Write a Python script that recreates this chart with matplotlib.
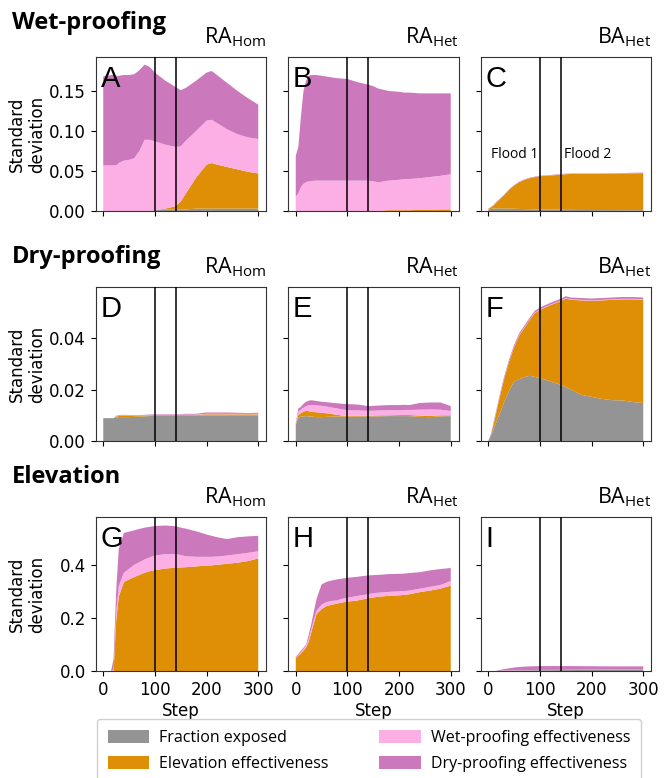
import numpy as np
import matplotlib
matplotlib.use("Agg")
import matplotlib.pyplot as plt
from matplotlib.patches import Patch
from matplotlib.ticker import FormatStrFormatter

TXT = "Open Sans"
plt.rcParams['mathtext.fontset'] = 'custom'
plt.rcParams['mathtext.rm'] = TXT
plt.rcParams['mathtext.it'] = TXT + ':italic'
plt.rcParams['mathtext.bf'] = TXT + ':bold'

# --- data: standard deviation per factor ---
steps = [0, 5, 10, 15, 20, 25, 30, 40, 50, 60, 70, 80, 90, 100, 120, 140,
         150, 160, 180, 200, 210, 220, 240, 260, 280, 300]

# Wet-proofing, RA_Hom (A)
A_exposed = [0, 0, 0, 0, 0, 0, 0, 0, 0, 0, 0, 0, 0, 0.001, 0.002, 0.002,
             0.002, 0.002, 0.003, 0.003, 0.003, 0.003, 0.003, 0.003, 0.003, 0.003]
A_elev = [0, 0, 0, 0, 0, 0, 0, 0, 0, 0, 0, 0, 0, 0, 0.001, 0.004,
          0.010, 0.020, 0.039, 0.055, 0.057, 0.055, 0.052, 0.049, 0.046, 0.044]
A_wet = [0.057, 0.057, 0.057, 0.057, 0.057, 0.057, 0.060, 0.063, 0.064, 0.066, 0.075, 0.089, 0.089,
         0.086, 0.080, 0.074, 0.069, 0.066, 0.058, 0.055, 0.054, 0.052, 0.047, 0.044, 0.043, 0.043]
A_dry = [0.111, 0.112, 0.112, 0.113, 0.113, 0.112, 0.109, 0.107, 0.106, 0.105, 0.101, 0.094, 0.091,
         0.086, 0.080, 0.075, 0.070, 0.066, 0.063, 0.060, 0.061, 0.060, 0.058, 0.054, 0.049, 0.043]

# Wet-proofing, RA_Het (B)
B_exposed = [0] * 26
B_elev = [0, 0, 0, 0, 0, 0, 0, 0, 0, 0, 0, 0, 0, 0, 0, 0,
          0, 0, 0.001, 0.001, 0.001, 0.001, 0.0015, 0.0015, 0.002, 0.002]
B_wet = [0.018, 0.022, 0.030, 0.034, 0.036, 0.037, 0.0375, 0.038, 0.038, 0.038, 0.038, 0.038, 0.038,
         0.038, 0.038, 0.038, 0.037, 0.036, 0.037, 0.038, 0.039, 0.039, 0.0395, 0.041, 0.042, 0.044]
B_dry = [0.051, 0.058, 0.088, 0.116, 0.127, 0.132, 0.1325, 0.132, 0.131, 0.130, 0.129, 0.128, 0.1275,
         0.127, 0.123, 0.120, 0.119, 0.117, 0.112, 0.110, 0.108, 0.108, 0.106, 0.1045, 0.103, 0.101]

# Wet-proofing, BA_Het (C)
C_exposed = [0.002, 0.0025, 0.003, 0.003, 0.0033, 0.0033, 0.003, 0.003, 0.0028, 0.0026, 0.0024, 0.0022, 0.002,
             0.002, 0.0018, 0.0016, 0.0015, 0.0014, 0.0013, 0.0012, 0.0012, 0.0011, 0.0011, 0.001, 0.001, 0.001]
C_elev = [0.0003, 0.0018, 0.0038, 0.0073, 0.010, 0.013, 0.0163, 0.0233, 0.029, 0.0334, 0.0365, 0.0388, 0.0403,
          0.0415, 0.0425, 0.0439, 0.0445, 0.0449, 0.045, 0.0451, 0.0451, 0.0452, 0.0454, 0.0458, 0.0461, 0.0463]
C_wet = [0.0002] * 26
C_dry = [0.0005] * 26

# Dry-proofing, RA_Hom (D)
D_exposed = [0.0089, 0.0089, 0.0089, 0.0089, 0.0089, 0.0091, 0.0093, 0.0093, 0.0093, 0.0094, 0.0095, 0.0096, 0.0097,
             0.0098, 0.0098, 0.0098, 0.0098, 0.0099, 0.0099, 0.0100, 0.0100, 0.0100, 0.0100, 0.0100, 0.0100, 0.0100]
D_elev = [0, 0, 0, 0, 0, 0.0004, 0.0005, 0.0006, 0.0005, 0.0004, 0.0003, 0.0003, 0.0003,
          0.0003, 0.0003, 0.0003, 0.0003, 0.0003, 0.0003, 0.0004, 0.0004, 0.0004, 0.0004, 0.0004, 0.0004, 0.0004]
D_wet = [0, 0, 0, 0, 0, 0.0001, 0.0001, 0.0001, 0.0001, 0.0001, 0.0001, 0.0001, 0.0001,
         0.0001, 0.0001, 0.0001, 0.0001, 0.0001, 0.0001, 0.0002, 0.0002, 0.0002, 0.0002, 0.0002, 0.0002, 0.0002]
D_dry = [0, 0, 0, 0, 0, 0.0002, 0.0002, 0.0002, 0.0002, 0.0002, 0.0002, 0.0002, 0.0002,
         0.0002, 0.0002, 0.0002, 0.0002, 0.0003, 0.0003, 0.0005, 0.0005, 0.0005, 0.0005, 0.0004, 0.0003, 0.0004]

# Dry-proofing, RA_Het (E)
E_exposed = [0.0063, 0.0090, 0.0095, 0.0096, 0.0097, 0.0096, 0.0095, 0.0093, 0.0093, 0.0094, 0.0095, 0.0095, 0.0095,
             0.0095, 0.0095, 0.0096, 0.0096, 0.0096, 0.0097, 0.0097, 0.0097, 0.0097, 0.0094, 0.0093, 0.0096, 0.0097]
E_elev = [0, 0.0011, 0.0013, 0.0018, 0.0021, 0.0020, 0.0019, 0.0019, 0.0017, 0.0014, 0.0010, 0.0007, 0.0004,
          0.0003, 0.0003, 0.0002, 0.0003, 0.0004, 0.0003, 0.0004, 0.0004, 0.0004, 0.0005, 0.0005, 0.0004, 0.0003]
E_wet = [0, 0.0013, 0.0015, 0.0016, 0.0018, 0.0023, 0.0026, 0.0027, 0.0027, 0.0026, 0.0025, 0.0025, 0.0024,
         0.0022, 0.0021, 0.0020, 0.0019, 0.0019, 0.0020, 0.0019, 0.0020, 0.0020, 0.0023, 0.0025, 0.0022, 0.0017]
E_dry = [0.0006, 0.0013, 0.0010, 0.0015, 0.0017, 0.0018, 0.0019, 0.0017, 0.0016, 0.0017, 0.0019, 0.0020, 0.0022,
         0.0024, 0.0023, 0.0018, 0.0019, 0.0019, 0.0020, 0.0020, 0.0020, 0.0019, 0.0026, 0.0027, 0.0028, 0.0019]

# Dry-proofing, BA_Het (F)
F_exposed = [0, 0.002, 0.0045, 0.007, 0.0097, 0.012, 0.0148, 0.0194, 0.0232, 0.0241, 0.0249, 0.0254, 0.0250,
             0.0245, 0.0232, 0.0219, 0.0210, 0.0200, 0.0180, 0.0172, 0.0168, 0.0164, 0.0159, 0.0158, 0.0152, 0.0148]
F_elev = [0, 0.0002, 0.0016, 0.0036, 0.0054, 0.0074, 0.0088, 0.0113, 0.0133, 0.0170, 0.0192, 0.0217, 0.0248,
          0.0266, 0.0297, 0.0326, 0.0345, 0.0350, 0.0368, 0.0374, 0.0379, 0.0384, 0.0391, 0.0394, 0.0400, 0.0402]
F_wet = [0, 0.0001, 0.0002, 0.0002, 0.0002, 0.0002, 0.0002, 0.0002, 0.0002, 0.0002, 0.0002, 0.0002, 0.0002,
         0.0002, 0.0002, 0.0002, 0.0002, 0.0002, 0.0002, 0.0002, 0.0002, 0.0002, 0.0002, 0.0002, 0.0002, 0.0002]
F_dry = [0, 0.0003, 0.0007, 0.0007, 0.0007, 0.0007, 0.0007, 0.0007, 0.0007, 0.0007, 0.0007, 0.0007, 0.0007,
         0.0007, 0.0007, 0.0007, 0.0007, 0.0007, 0.0007, 0.0007, 0.0007, 0.0007, 0.0007, 0.0007, 0.0007, 0.0007]

# Elevation, RA_Hom (G)
G_exposed = [0] * 26
G_elev = [0, 0, 0, 0, 0, 0.19, 0.28, 0.335, 0.345, 0.354, 0.362, 0.370, 0.376,
          0.380, 0.386, 0.389, 0.390, 0.391, 0.394, 0.397, 0.398, 0.400, 0.404, 0.408, 0.414, 0.424]
G_wet = [0, 0, 0, 0, 0.005, 0.03, 0.04, 0.035, 0.04, 0.046, 0.048, 0.050, 0.052,
         0.055, 0.054, 0.051, 0.047, 0.041, 0.036, 0.033, 0.032, 0.031, 0.031, 0.032, 0.031, 0.027]
G_dry = [0, 0, 0, 0, 0.040, 0.08, 0.14, 0.15, 0.14, 0.13, 0.125, 0.120, 0.115,
         0.111, 0.108, 0.105, 0.103, 0.104, 0.096, 0.084, 0.079, 0.073, 0.062, 0.064, 0.062, 0.058]

# Elevation, RA_Het (H)
H_exposed = [0] * 26
H_elev = [0.049, 0.057, 0.066, 0.077, 0.089, 0.11, 0.145, 0.214, 0.233, 0.245, 0.250, 0.254, 0.258,
          0.261, 0.266, 0.274, 0.277, 0.280, 0.283, 0.285, 0.287, 0.289, 0.297, 0.303, 0.310, 0.322]
H_wet = [0.002, 0.003, 0.004, 0.006, 0.008, 0.010, 0.012, 0.012, 0.017, 0.015, 0.014, 0.012, 0.014,
         0.015, 0.017, 0.015, 0.016, 0.015, 0.015, 0.015, 0.014, 0.014, 0.013, 0.014, 0.014, 0.017]
H_dry = [0.003, 0.004, 0.006, 0.005, 0.003, 0.015, 0.019, 0.044, 0.076, 0.076, 0.077, 0.079, 0.076,
         0.075, 0.072, 0.071, 0.068, 0.067, 0.067, 0.066, 0.066, 0.066, 0.062, 0.062, 0.060, 0.049]

# Elevation, BA_Het (I)
I_exposed = [0, 0, 0, 0, 0.0005, 0.001, 0.001, 0.0015, 0.002, 0.002, 0.0025, 0.0025, 0.003,
             0.003, 0.003, 0.0035, 0.0035, 0.0035, 0.004, 0.004, 0.004, 0.004, 0.004, 0.004, 0.004, 0.004]
I_elev = [0] * 26
I_wet = [0, 0, 0, 0, 0, 0.0005, 0.0008, 0.001, 0.001, 0.001, 0.001, 0.001, 0.001,
         0.001, 0.001, 0.001, 0.001, 0.001, 0.001, 0.001, 0.001, 0.001, 0.001, 0.001, 0.001, 0.001]
I_dry = [0, 0, 0, 0, 0.002, 0.0035, 0.0052, 0.0075, 0.010, 0.012, 0.013, 0.0139, 0.014,
         0.0146, 0.0146, 0.0141, 0.0141, 0.0141, 0.0132, 0.013, 0.0128, 0.0126, 0.0125, 0.0124, 0.0124, 0.0124]

row_titles = ["Wet-proofing", "Dry-proofing", "Elevation"]
col_titles = [r"RA$_{\mathrm{Hom}}$", r"RA$_{\mathrm{Het}}$", r"BA$_{\mathrm{Het}}$"]
panel_letters = ["A", "B", "C", "D", "E", "F", "G", "H", "I"]
row_yticks = [[0, 0.05, 0.10, 0.15], [0, 0.02, 0.04], [0, 0.2, 0.4]]
row_yfmt = ["%.2f", "%.2f", "%.1f"]
row_ylims = [0.1925, 0.060, 0.58]
flood_steps = [100, 140]
xticks = [0, 100, 200, 300]

series_labels = ["Fraction exposed", "Elevation effectiveness",
                 "Wet-proofing effectiveness", "Dry-proofing effectiveness"]
colors = ["#949494", "#DE8F05", "#FBAFE4", "#CC78BC"]

panels = [
    [A_exposed, A_elev, A_wet, A_dry], [B_exposed, B_elev, B_wet, B_dry], [C_exposed, C_elev, C_wet, C_dry],
    [D_exposed, D_elev, D_wet, D_dry], [E_exposed, E_elev, E_wet, E_dry], [F_exposed, F_elev, F_wet, F_dry],
    [G_exposed, G_elev, G_wet, G_dry], [H_exposed, H_elev, H_wet, H_dry], [I_exposed, I_elev, I_wet, I_dry],
]

# --- layout in pixels of the 664x778 canvas ---
W, H = 664, 778
fig = plt.figure(figsize=(W / 100, H / 100), dpi=100)

col_left = [95.5, 288, 480.5]
ax_w = 170.5
row_top = [57, 287, 517]
ax_h = 154
title_base = [29, 263, 483]

for r in range(3):
    fig.text(12 / W, 1 - title_base[r] / H, row_titles[r], fontsize=17,
             fontweight="bold", family=TXT, va="baseline", ha="left")
    for c in range(3):
        k = r * 3 + c
        ax = fig.add_axes([col_left[c] / W, 1 - (row_top[r] + ax_h) / H, ax_w / W, ax_h / H])
        ax.stackplot(steps, *panels[k], colors=colors, linewidth=0)
        for s in flood_steps:
            ax.axvline(s, color="black", lw=1.1, zorder=3)
        ax.set_xlim(-15, 315)
        ax.set_ylim(0, row_ylims[r])
        ax.set_xticks(xticks)
        ax.set_yticks(row_yticks[r])
        ax.yaxis.set_major_formatter(FormatStrFormatter(row_yfmt[r]))
        ax.tick_params(labelsize=12)
        if c > 0:
            ax.tick_params(labelleft=False)
        if r < 2:
            ax.tick_params(labelbottom=False)
        else:
            ax.set_xlabel("Step", fontsize=12, labelpad=2)
        for sp in ax.spines.values():
            sp.set_color("#333333")
        ax.text(0.03, 0.95, panel_letters[k], transform=ax.transAxes, fontsize=21,
                family="Liberation Sans", va="top", ha="left", zorder=5)
        ax.text(1.0, 1.0 + 14 / ax_h, col_titles[c], transform=ax.transAxes,
                fontsize=15.5, family=TXT, ha="right", va="baseline")
        if k == 2:
            ax.text(97, 0.070, "Flood 1", fontsize=10, family=TXT, ha="right", va="center")
            ax.text(146, 0.070, "Flood 2", fontsize=10, family=TXT, ha="left", va="center")

    fig.text(27 / W, 1 - (row_top[r] + ax_h / 2) / H, "Standard\ndeviation", fontsize=12,
             rotation=90, ha="center", va="center", multialignment="center")

handles = [Patch(facecolor=col, edgecolor="none") for col in colors]
fig.legend(handles, series_labels, ncol=2, loc="upper left",
           bbox_to_anchor=(96.5 / W, 1 - 719 / H),
           prop={"family": TXT, "size": 11.5}, handlelength=2.6, handleheight=0.9,
           labelspacing=0.6, borderpad=0.7, borderaxespad=0, handletextpad=0.6,
           columnspacing=3.2, framealpha=1.0, edgecolor="#d0d0d0")

fig.savefig("out.png", dpi=100)
